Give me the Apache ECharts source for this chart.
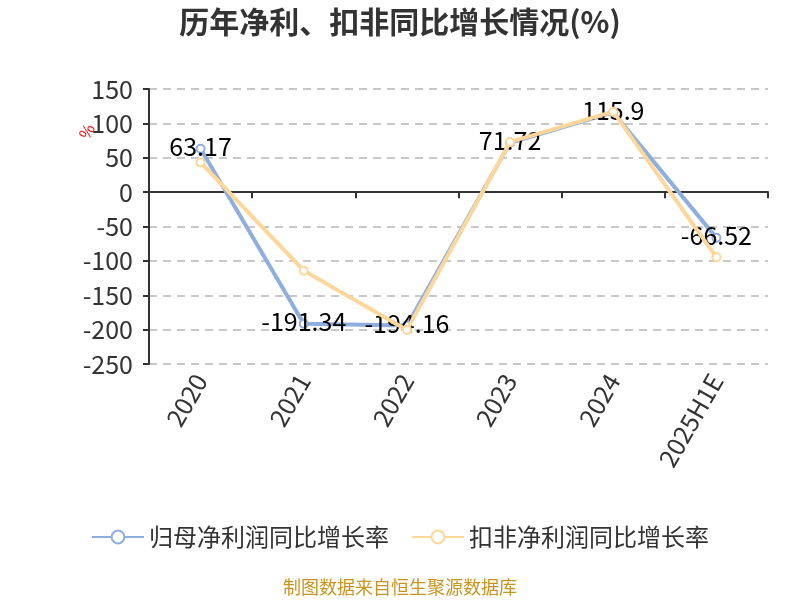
<!DOCTYPE html>
<html>
<head>
<meta charset="utf-8">
<script src="https://cdn.jsdelivr.net/npm/echarts@6/dist/echarts.min.js"></script>
<style>html,body{margin:0;padding:0;background:#fff}#c{width:800px;height:600px}</style>
</head>
<body>
<div id="c"></div>
<script>
const categories = ['2020', '2021', '2022', '2023', '2024', '2025H1E'];
const netProfitGrowth = [63.17, -191.34, -194.16, 71.72, 115.9, -66.52];
const deductedGrowth = [43.3, -114.2, -200.4, 73.0, 117.0, -94.8];
const yTicks = { min: -250, max: 150, interval: 50 };
const seriesNames = ['归母净利润同比增长率', '扣非净利润同比增长率'];

const FONT = '"Microsoft YaHei","Noto Sans CJK SC","Noto Sans",sans-serif';
const chart = echarts.init(document.getElementById('c'));
chart.setOption({
  backgroundColor: '#fff',
  textStyle: { fontFamily: FONT },
  title: {
    text: '历年净利、扣非同比增长情况(%)',
    left: 'center', top: 2,
    textStyle: { fontSize: 30, fontWeight: 'bold', color: '#333', fontFamily: FONT }
  },
  graphic: [
    { type: 'text', left: 76, top: 121, rotation: Math.PI / 3,
      style: { text: '%', fill: '#ff0000', fontSize: 16, fontFamily: FONT } },
    { type: 'text', left: 'center', top: 578,
      style: { text: '制图数据来自恒生聚源数据库', fill: '#c8941f', fontSize: 18, fontFamily: FONT } }
  ],
  legend: {
    bottom: 46, left: 'center', itemWidth: 52, itemHeight: 16, itemGap: 22,
    textStyle: { fontSize: 24, color: '#333', fontFamily: FONT },
    data: seriesNames
  },
  grid: { left: 149, right: 32, top: 89, bottom: 236, containLabel: false, outerBoundsMode: 'none' },
  xAxis: {
    type: 'category', data: categories,
    axisLine: { onZero: true, lineStyle: { color: '#333', width: 2 } },
    axisTick: { show: true, length: 6, lineStyle: { color: '#333', width: 2 } },
    axisLabel: { rotate: 60, fontSize: 25, color: '#333', margin: 12, interval: 0, fontFamily: FONT },
    splitLine: { show: false }
  },
  yAxis: {
    type: 'value', min: yTicks.min, max: yTicks.max, interval: yTicks.interval,
    axisLine: { show: true, lineStyle: { color: '#333', width: 2 } },
    axisTick: { show: true, length: 6, lineStyle: { color: '#333', width: 2 } },
    axisLabel: { fontSize: 25, color: '#333', margin: 16, fontFamily: FONT },
    splitLine: { show: true, lineStyle: { type: [8, 6], color: '#c8c8c8', width: 2 } }
  },
  series: [
    {
      name: seriesNames[0], type: 'line', data: netProfitGrowth,
      symbol: 'emptyCircle', symbolSize: 8,
      itemStyle: { color: '#8eaedf' }, lineStyle: { width: 4, color: '#8eaedf' },
      label: { show: true, position: 'inside', offset: [0, -2], fontSize: 25, color: '#000', fontFamily: FONT },
      z: 2
    },
    {
      name: seriesNames[1], type: 'line', data: deductedGrowth,
      symbol: 'emptyCircle', symbolSize: 8,
      itemStyle: { color: '#ffd699' }, lineStyle: { width: 4, color: '#ffd699' },
      z: 3
    }
  ]
});
</script>
</body>
</html>
